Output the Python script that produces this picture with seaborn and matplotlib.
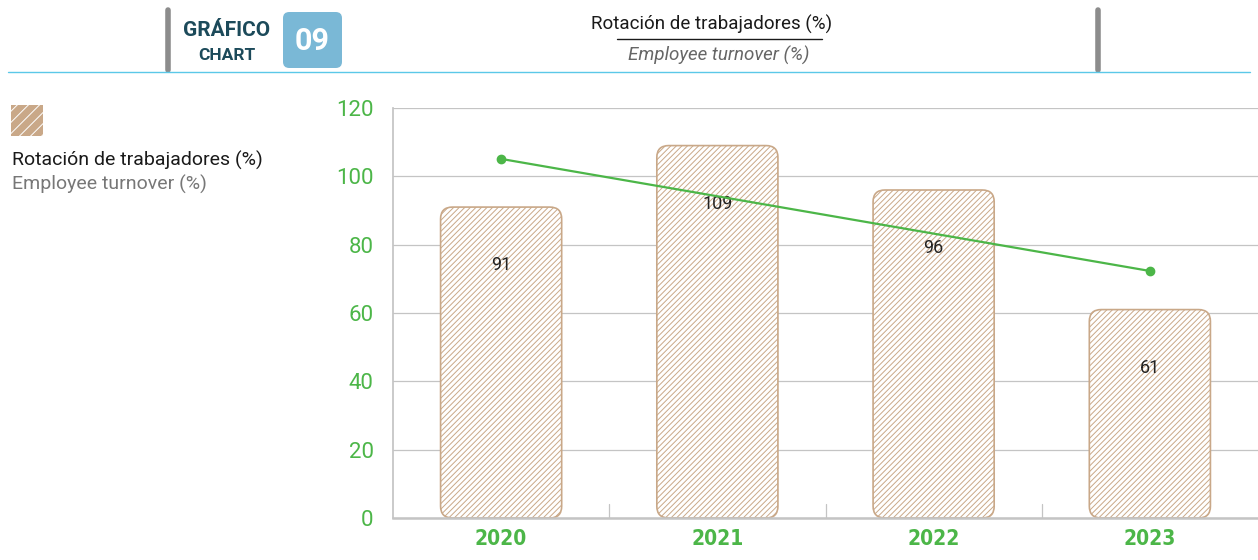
import numpy as np
import pandas as pd
import matplotlib
matplotlib.use("Agg")
import matplotlib.pyplot as plt
import seaborn as sns
from matplotlib.patches import FancyBboxPatch, Rectangle

# datos
years = ["2020", "2021", "2022", "2023"]
turnover = [91, 109, 96, 61]
trend_years = ["2020", "2023"]
trend_values = [105.1, 72.3]
y_ticks = [0, 20, 40, 60, 80, 100, 120]

GREEN = "#4cb648"
TAN = "#c9a888"
GRID = "#c4c4c4"

sns.set_theme(style="white")
plt.rcParams["font.family"] = ["Roboto", "DejaVu Sans"]
plt.rcParams["hatch.linewidth"] = 0.7

fig = plt.figure(figsize=(12.58, 5.6), dpi=100)
ax = fig.add_axes([393 / 1258, 1 - 518 / 560, 865 / 1258, 410 / 560])

df = pd.DataFrame({"year": years, "value": turnover})
sns.barplot(data=df, x="year", y="value", ax=ax, width=0.56,
            color="white", edgecolor=TAN, linewidth=1.2, zorder=2)

# barras con esquinas redondeadas
for p in list(ax.patches):
    x0, y0, w, h = p.get_x(), p.get_y(), p.get_width(), p.get_height()
    p.remove()
    fb = FancyBboxPatch((x0, y0), w, h,
                        boxstyle="round,pad=0,rounding_size=0.055",
                        mutation_aspect=63, facecolor="white",
                        edgecolor=TAN, linewidth=1.2, hatch="//////", zorder=2)
    ax.add_patch(fb)

for i, v in enumerate(turnover):
    ax.annotate(f"{v}", (i, v), xytext=(0, -42), textcoords="offset points",
                ha="center", va="center", fontsize=13, color="#222222", zorder=4)

# linea de tendencia
tx = [years.index(t) for t in trend_years]
ax.plot(tx, trend_values, color=GREEN, lw=1.6, marker="o", ms=6, zorder=5)

ax.set_xlim(-0.5, 3.5)
ax.set_ylim(0, 120)
ax.set_yticks(y_ticks)
ax.set_xlabel("")
ax.set_ylabel("")
ax.yaxis.grid(True, color=GRID, lw=0.9, zorder=0)
ax.set_axisbelow(True)
for s in ["top", "right"]:
    ax.spines[s].set_visible(False)
ax.spines["left"].set_color(GRID)
ax.spines["bottom"].set_color(GRID)
ax.spines["bottom"].set_linewidth(1.8)
ax.tick_params(axis="y", length=0, labelsize=16, labelcolor=GREEN, pad=14)
ax.set_xticks(range(len(years)))
ax.set_xticklabels(years, fontsize=15, color=GREEN, fontweight="bold",
                   family="DejaVu Sans", fontstretch="condensed")
ax.tick_params(axis="x", length=0, pad=8)
for b in [0.5, 1.5, 2.5]:
    ax.plot([b, b], [0, 4], color=GRID, lw=0.9, zorder=1)

# cabecera
fig.add_artist(plt.Line2D([168 / 1258] * 2, [1 - 10 / 560, 1 - 70 / 560], color="#8c8c8c", lw=4))
fig.add_artist(plt.Line2D([1098 / 1258] * 2, [1 - 10 / 560, 1 - 70 / 560], color="#8c8c8c", lw=4))
fig.text(227 / 1258, 1 - 30 / 560, "GRÁFICO", ha="center", va="center",
         fontsize=15, fontweight="bold", color="#1c4a5a")
fig.text(227 / 1258, 1 - 55 / 560, "CHART", ha="center", va="center",
         fontsize=12.5, fontweight="bold", color="#1c4a5a")
fig.add_artist(FancyBboxPatch((283 / 1258, 1 - 68 / 560), 59 / 1258, 56 / 560,
                              boxstyle="round,pad=0,rounding_size=0.005",
                              mutation_aspect=2.2, transform=fig.transFigure,
                              facecolor="#7ab8d6", edgecolor="none"))
fig.text(312 / 1258, 1 - 41 / 560, "09", ha="center", va="center",
         fontsize=22, fontweight="bold", color="white")
fig.text(712 / 1258, 1 - 24 / 560, "Rotación de trabajadores (%)", ha="center",
         va="center", fontsize=13.5, color="#1a1a1a")
fig.add_artist(plt.Line2D([617 / 1258, 822 / 1258], [1 - 39 / 560] * 2, color="#1a1a1a", lw=1))
fig.text(719 / 1258, 1 - 55 / 560, "Employee turnover (%)", ha="center",
         va="center", fontsize=13.5, style="italic", color="#666666")
fig.add_artist(plt.Line2D([8 / 1258, 1250 / 1258], [1 - 72 / 560] * 2, color="#5bc8e8", lw=1))

# leyenda
fig.add_artist(Rectangle((11 / 1258, 1 - 136 / 560), 32 / 1258, 31 / 560,
                         transform=fig.transFigure, facecolor=TAN,
                         edgecolor="white", lw=0, hatch="///"))
fig.text(12 / 1258, 1 - 160 / 560, "Rotación de trabajadores (%)", ha="left",
         va="center", fontsize=14, color="#1a1a1a")
fig.text(12 / 1258, 1 - 184 / 560, "Employee turnover (%)", ha="left",
         va="center", fontsize=14, color="#777777")

fig.savefig("out.png", dpi=100)
